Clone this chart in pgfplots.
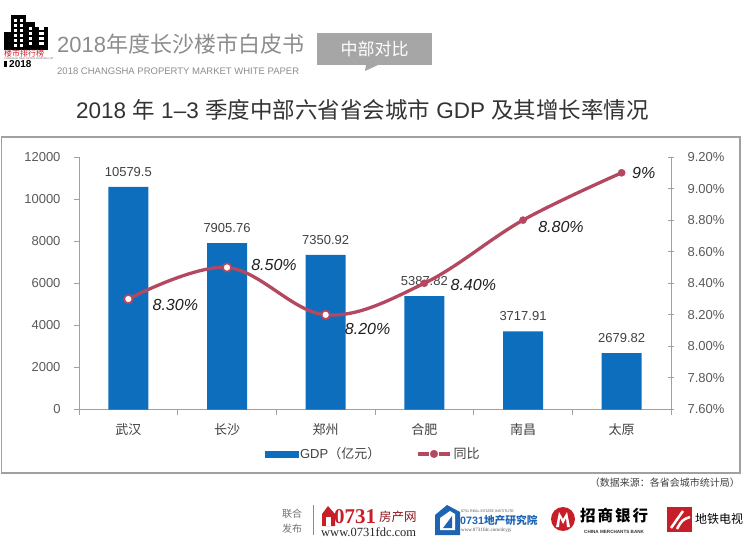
\documentclass[border=0pt]{standalone}
\usepackage{pgfplots}
\pgfplotsset{compat=1.18}
\usepackage{pgfplotstable}
\usepackage{fontspec}
\setmainfont{Liberation Sans}
\newfontfamily\cjk{Noto Sans CJK SC}
\newfontfamily\serif{Liberation Serif}

\definecolor{barblue}{RGB}{14,110,190}
\definecolor{linered}{RGB}{180,72,96}
\definecolor{axgray}{RGB}{160,160,160}
\definecolor{txtgray}{RGB}{89,89,89}
\definecolor{txtdark}{RGB}{64,64,64}
\definecolor{hdrgray}{RGB}{140,140,140}
\definecolor{boxgray}{RGB}{166,166,166}
\definecolor{logored}{RGB}{200,30,40}
\definecolor{logoblue}{RGB}{30,100,180}

\newcommand{\fs}[1]{\fontsize{#1bp}{1.2\dimexpr#1bp\relax}\selectfont}

% GDP (亿元)
\pgfplotstableread{
x gdp lab
0 10579.5 10579.5
1 7905.76 7905.76
2 7350.92 7350.92
3 5387.82 5387.82
4 3717.91 3717.91
5 2679.82 2679.82
}\gdptable

% 同比 (%), label offsets in bp
\pgfplotstableread{
x rate lab dx dy
0 8.30 8.30 47 -6
1 8.50 8.50 47 2
2 8.20 8.20 42 -14
3 8.40 8.40 49 -2
4 8.80 8.80 38 -7
5 9.10 9 22 0
}\ratetable

\begin{document}
\begin{tikzpicture}
\useasboundingbox (0bp,0bp) rectangle (750bp,-549bp);

\begin{scope}[x=1bp,y=-1bp]
% ---- header ----
\fill[black] (4,32) rectangle (11,50);
\fill[black] (11,15) rectangle (26,50);
\fill[black] (26,22) rectangle (35,50);
\fill[black] (35,27) rectangle (48,50);
\foreach \yy in {19,24,29,34,39,44} {
  \fill[white] (14,\yy) rectangle (17,\yy+2.5);
  \fill[white] (20,\yy) rectangle (23,\yy+2.5);
}
\foreach \yy in {27,32,37,42} {
  \fill[white] (29,\yy) rectangle (32,\yy+2.5);
  \fill[white] (39,\yy) rectangle (44,\yy+2.5);
}
\node[anchor=west, inner sep=0pt, text=logored, font=\cjk\fs{8}] at (4,53.5) {楼市排行榜};
\node[anchor=west, inner sep=0pt, text=black!60, font=\fs{2.5}] at (4,58.5) {CHANGSHA REAL ESTATE RANKING LIST};
\fill[black] (4,61) rectangle (7,67);
\node[anchor=west, inner sep=0pt, font=\bfseries\fs{10}] at (9,64) {2018};

\node[anchor=west, inner sep=0pt, text=hdrgray, font=\fs{22}] at (57,44) {2018{\cjk 年度长沙楼市白皮书}};
\node[anchor=west, inner sep=0pt, text=hdrgray, font=\fs{9.5}] at (57,71) {2018 CHANGSHA PROPERTY MARKET WHITE PAPER};
\fill[boxgray] (317,33) rectangle (432,65);
\fill[boxgray] (366,65) -- (378,65) -- (365,71) -- cycle;
\node[text=white, font=\cjk\fs{17}] at (374.5,49) {中部对比};

% ---- title ----
\node[text=black!80, font=\fs{22.5}] at (362.5,110)
  {2018 {\cjk 年} 1–3 {\cjk 季度中部六省省会城市} GDP {\cjk 及其增长率情况}};

% ---- frame ----
\draw[axgray, line width=1.2bp] (1.5,137) rectangle (740,473);

% ---- source ----
\node[anchor=east, inner sep=0pt, text=txtdark, font=\cjk\fs{10}] at (740,483) {（数据来源：各省会城市统计局）};

% ---- footer ----
\node[text=black!55, font=\cjk\fs{10}, inner sep=0pt] at (292,514) {联合};
\node[text=black!55, font=\cjk\fs{10}, inner sep=0pt] at (292,529) {发布};
\draw[black!45, line width=0.8bp] (313,505) -- (313,535);

\fill[logored] (322,514) -- (328,506) -- (335,514) -- (335,526) -- (322,526) -- cycle;
\fill[white] (326,517) rectangle (331,526);
\node[anchor=west, inner sep=0pt, text=logored, font=\serif\bfseries\fs{21}] at (334,517) {0731};
\node[anchor=west, inner sep=0pt, text=logored!70!black, font=\cjk\fs{12.5}] at (379,517) {房产网};
\node[anchor=west, inner sep=0pt, text=black!85, font=\serif\fs{12.5}] at (321,532) {www.0731fdc.com};

\fill[logoblue] (435,515) -- (447,505) -- (460,512) -- (460,535) -- (435,535) -- cycle;
\fill[white] (440,518) -- (450,511) -- (455,514) -- (455,530) -- (440,530) -- cycle;
\fill[logoblue] (443,528) -- (452,516) -- (452,528) -- cycle;
\node[anchor=west, inner sep=0pt, text=black!70, font=\fs{3.6}] at (461,511) {0731 REAL ESTATE INSTITUTE};
\node[anchor=west, inner sep=0pt, text=logoblue, font=\bfseries\fs{10.7}] at (460,520.5) {0731{\cjk 地产研究院}};
\node[anchor=west, inner sep=0pt, text=black!70, font=\serif\fs{5}] at (461,530) {www.0731fdc.com/dcyjy};

\fill[logored] (563,519) circle (12);
\fill[white] (556,527) -- (559,512) -- (563,519) -- (567,512) -- (570,527) -- (567,527) -- (566,518) -- (563,524) -- (560,518) -- (559,527) -- cycle;
\node[anchor=west, inner sep=0pt, text=black, font=\cjk\bfseries\fs{15.5}] at (580,516)
  {招\hspace{2bp}商\hspace{2bp}银\hspace{2bp}行};
\node[anchor=west, inner sep=0pt, text=black!80, font=\bfseries\fs{4.6}] at (584,532) {CHINA MERCHANTS BANK};

\fill[logored] (667,507) rectangle (692,532);
\draw[white, line width=2.5bp] (671,528) -- (683,511);
\draw[white, line width=2.5bp] (677,529) .. controls (682,520) .. (690,517);
\node[anchor=west, inner sep=0pt, text=black, font=\cjk\fs{12}] at (695,519) {地铁电视};
\end{scope}

% ---- bars ----
\begin{axis}[
  at={(79bp,-409.5bp)}, anchor=south west,
  width=592bp, height=252.5bp, scale only axis,
  xmin=-0.5, xmax=5.5, ymin=0, ymax=12000,
  axis x line*=bottom, axis y line*=left,
  axis line style={draw=axgray, line width=0.9bp},
  tick style={draw=axgray, line width=0.9bp},
  tick align=outside, major tick length=5bp,
  xtick={-0.5,0.5,...,5.5}, x tick label as interval,
  xticklabels={武汉,长沙,郑州,合肥,南昌,太原},
  x tick label style={font=\cjk\fs{13}, text=txtdark, yshift=-6bp},
  ytick={0,2000,4000,6000,8000,10000,12000},
  scaled y ticks=false,
  y tick label style={font=\fs{13}, text=txtgray, xshift=-10bp},
  /pgf/number format/1000 sep={},
  /pgf/number format/assume math mode=true,
]
\addplot[ybar, bar width=40bp, fill=barblue, draw=none,
  nodes near coords, point meta=explicit symbolic,
  nodes near coords style={font=\fs{13}, text=txtdark, anchor=south, inner sep=0pt, yshift=10bp}]
  table[x=x, y=gdp, meta=lab] {\gdptable};
\end{axis}

% ---- growth rate ----
\begin{axis}[
  at={(79bp,-409.5bp)}, anchor=south west,
  width=592bp, height=252.5bp, scale only axis,
  xmin=-0.5, xmax=5.5, ymin=7.6, ymax=9.2,
  axis x line=none, axis y line*=right,
  axis line style={draw=axgray, line width=0.9bp},
  tick style={draw=axgray, line width=0.9bp},
  tick align=center, major tick length=6bp,
  ytick={7.6,7.8,8.0,8.2,8.4,8.6,8.8,9.0,9.2},
  yticklabels={7.60\%,7.80\%,8.00\%,8.20\%,8.40\%,8.60\%,8.80\%,9.00\%,9.20\%},
  y tick label style={font=\fs{13}, text=txtgray, xshift=10bp},
  legend columns=2,
  legend style={at={(0.497,-0.176)}, anchor=center, draw=none, fill=none,
    font=\fs{13}, text=txtdark,
    /tikz/every even column/.append style={column sep=34bp}},
  legend cell align=left,
]
\addlegendimage{legend image code/.code={\fill[barblue] (0bp,-3bp) rectangle (33bp,3bp);}}
\addlegendimage{legend image code/.code={
  \draw[linered, line width=3.5bp] (0bp,0bp) -- (11bp,0bp);
  \draw[linered, line width=3.5bp] (21bp,0bp) -- (32bp,0bp);
  \fill[linered] (16bp,0bp) circle (3.8bp);}}
\addplot[smooth, tension=0.6, linered, line width=3.3bp, no markers,
  nodes near coords={\pgfplotspointmeta\%}, point meta=explicit symbolic,
  visualization depends on={\thisrow{dx} \as \dx},
  visualization depends on={\thisrow{dy} \as \dy},
  nodes near coords style={anchor=center, inner sep=0pt, xshift=\dx bp, yshift=\dy bp,
    font=\itshape\fs{16}, text=black!88}]
  table[x=x, y=rate, meta=lab] {\ratetable};
\addplot[only marks, mark=*, mark size=4.2bp, draw=linered, fill=white, line width=1.8bp,
  restrict x to domain=0:2]
  table[x=x, y=rate] {\ratetable};
\addplot[only marks, mark=*, mark size=3.6bp, draw=linered, fill=linered,
  restrict x to domain=3:5]
  table[x=x, y=rate] {\ratetable};
\legend{GDP{\cjk （亿元）}, {\cjk 同比}}
\end{axis}
\end{tikzpicture}
\end{document}
